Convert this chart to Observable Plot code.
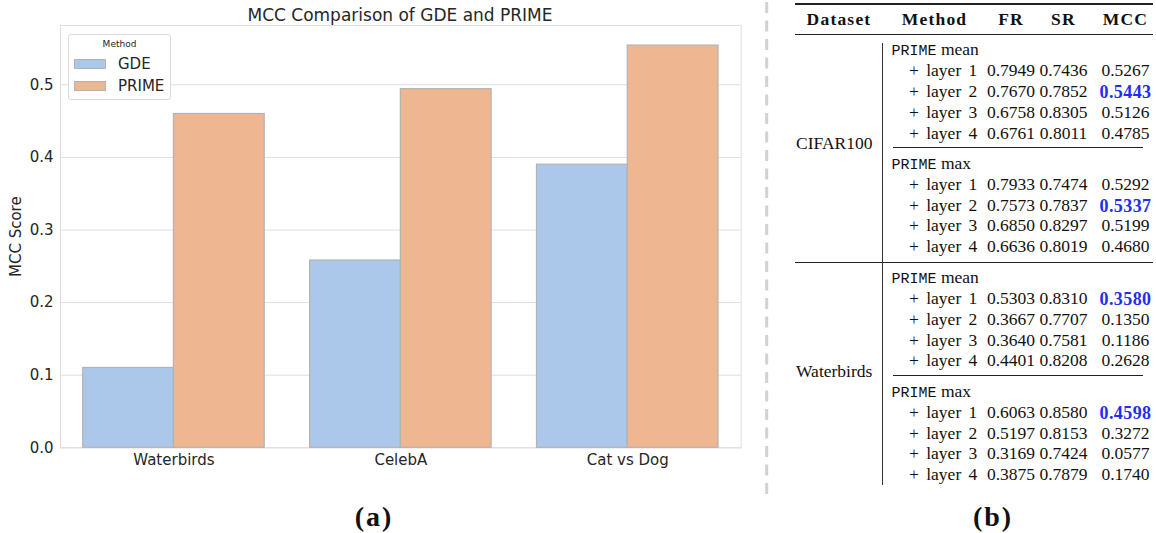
<!DOCTYPE html>
<html>
<head>
<meta charset="utf-8">
<script src="https://cdn.jsdelivr.net/npm/d3@7"></script>
<script src="https://cdn.jsdelivr.net/npm/@observablehq/plot@0.6"></script>
<style>
  html, body { margin: 0; padding: 0; background: #fff; }
  #page { position: relative; width: 1156px; height: 533px; overflow: hidden; font-family: "DejaVu Sans", sans-serif; }
  #chart { position: absolute; left: 0; top: 0; }
  .serif { font-family: "Liberation Serif", serif; color: #111; }
  .mono { font-family: "Liberation Mono", monospace; }
</style>
</head>
<body>
<div id="page"><div id="chart"></div></div>
<script>
// ---- bar chart data ----
const datasets = ["Waterbirds", "CelebA", "Cat vs Dog"];
const methods = ["GDE", "PRIME"];
const gdeScores = [0.110, 0.258, 0.390];
const primeScores = [0.4598, 0.494, 0.554];
const yTicks = [0, 0.1, 0.2, 0.3, 0.4, 0.5];
const methodColors = ["#abc8ea", "#efb692"];

// ---- table data ----
const tableDatasets = ["CIFAR100", "Waterbirds"];
const poolings = ["mean", "max"];
const layerNames = ["layer 1", "layer 2", "layer 3", "layer 4"];
const tableColumns = ["Dataset", "Method", "FR", "SR", "MCC"];

const cifarMeanFR = [0.7949, 0.7670, 0.6758, 0.6761];
const cifarMeanSR = [0.7436, 0.7852, 0.8305, 0.8011];
const cifarMeanMCC = [0.5267, 0.5443, 0.5126, 0.4785];
const cifarMaxFR = [0.7933, 0.7573, 0.6850, 0.6636];
const cifarMaxSR = [0.7474, 0.7837, 0.8297, 0.8019];
const cifarMaxMCC = [0.5292, 0.5337, 0.5199, 0.4680];
const wbMeanFR = [0.5303, 0.3667, 0.3640, 0.4401];
const wbMeanSR = [0.8310, 0.7707, 0.7581, 0.8208];
const wbMeanMCC = [0.3580, 0.1350, 0.1186, 0.2628];
const wbMaxFR = [0.6063, 0.5197, 0.3169, 0.3875];
const wbMaxSR = [0.8580, 0.8153, 0.7424, 0.7879];
const wbMaxMCC = [0.4598, 0.3272, 0.0577, 0.1740];

// ---- (a) grouped bar chart ----
const bars = datasets.flatMap((d, i) => [
  {dataset: d, method: methods[0], mcc: gdeScores[i]},
  {dataset: d, method: methods[1], mcc: primeScores[i]}
]);
const yMax = d3.max(bars, d => d.mcc) * 1.05;

const chart = Plot.plot({
  width: 760,
  height: 490,
  marginLeft: 60,
  marginRight: 19.3,
  marginTop: 25,
  marginBottom: 42.7,
  style: {fontFamily: "DejaVu Sans, sans-serif", color: "#262626", background: "transparent"},
  fx: {domain: datasets, padding: 0, round: false, label: null},
  x: {domain: methods, paddingInner: 0, paddingOuter: 0.25, round: false, axis: null},
  y: {domain: [0, yMax]},
  color: {domain: methods, range: methodColors},
  marks: [
    Plot.gridY(yTicks, {stroke: "#dedede", strokeOpacity: 1, strokeWidth: 1}),
    Plot.frame({facet: "super", stroke: "#dedede", strokeWidth: 1}),
    Plot.barY(bars, {fx: "dataset", x: "method", y: "mcc", fill: "method", stroke: "#b3b3b3", strokeWidth: 1.2}),
    Plot.axisY(yTicks, {
      tickSize: 0, tickPadding: 7, tickFormat: d3.format(".1f"), fontSize: 15,
      label: "MCC Score", labelAnchor: "center", labelArrow: "none", labelOffset: 50
    }),
    Plot.axisFx({anchor: "bottom", tickSize: 0, tickPadding: 7, fontSize: 15, label: null})
  ]
});
document.getElementById("chart").appendChild(chart);

const page = document.getElementById("page");
function put(text, css, cls) {
  const el = document.createElement("div");
  if (cls) el.className = cls;
  el.textContent = text;
  Object.assign(el.style, {position: "absolute", whiteSpace: "pre", lineHeight: "1"}, css);
  page.appendChild(el);
  return el;
}
function rule(x1, x2, y, w) {
  put("", {left: x1 + "px", top: (y - w / 2) + "px", width: (x2 - x1) + "px", height: w + "px", background: "#222"});
}

// title
put("MCC Comparison of GDE and PRIME", {
  left: "400px", top: "15px", transform: "translate(-50%,-50%)", fontSize: "17px", color: "#262626"
});

// legend
const legend = put("", {
  left: "68px", top: "34px", width: "103px", height: "66px", boxSizing: "border-box",
  border: "1px solid #dadada", borderRadius: "3px", background: "rgba(255,255,255,0.85)"
});
legend.appendChild(Object.assign(document.createElement("div"), {textContent: "Method"}));
Object.assign(legend.firstChild.style, {position: "absolute", left: "50%", top: "9px", transform: "translate(-50%,-50%)", fontSize: "9px", color: "#262626", lineHeight: "1"});
methods.forEach((m, i) => {
  const sw = document.createElement("div");
  Object.assign(sw.style, {position: "absolute", left: "5px", top: (23.5 + i * 22.3) + "px", width: "32px", height: "10px", background: methodColors[i], border: "1px solid #b3b3b3", boxSizing: "border-box"});
  legend.appendChild(sw);
  const tx = document.createElement("div");
  tx.textContent = m;
  Object.assign(tx.style, {position: "absolute", left: "49px", top: (29 + i * 22.3) + "px", transform: "translateY(-50%)", fontSize: "15px", color: "#262626", lineHeight: "1"});
  legend.appendChild(tx);
});

// panel captions
put("(a)", {left: "374px", top: "517px", transform: "translate(-50%,-50%)", fontSize: "28px", fontWeight: "bold", letterSpacing: "2px"}, "serif");
put("(b)", {left: "993px", top: "517px", transform: "translate(-50%,-50%)", fontSize: "28px", fontWeight: "bold", letterSpacing: "2px"}, "serif");

// dashed separator between panels
const sepNS = "http://www.w3.org/2000/svg";
const sep = document.createElementNS(sepNS, "svg");
sep.setAttribute("width", "10"); sep.setAttribute("height", "533");
Object.assign(sep.style, {position: "absolute", left: "762px", top: "0px"});
const sepLine = document.createElementNS(sepNS, "line");
sepLine.setAttribute("x1", "4.7"); sepLine.setAttribute("x2", "4.7");
sepLine.setAttribute("y1", "2"); sepLine.setAttribute("y2", "497");
sepLine.setAttribute("stroke", "#d2d2d2"); sepLine.setAttribute("stroke-width", "3");
sepLine.setAttribute("stroke-dasharray", "11 7.5");
sep.appendChild(sepLine);
page.appendChild(sep);

// ---- (b) results table ----
const blockValues = [
  [[cifarMeanFR, cifarMeanSR, cifarMeanMCC], [cifarMaxFR, cifarMaxSR, cifarMaxMCC]],
  [[wbMeanFR, wbMeanSR, wbMeanMCC], [wbMaxFR, wbMaxSR, wbMaxMCC]]
];
const ruleL = 795, ruleR = 1153, vLineX = 882.3;
const colX = {Dataset: 839, Method: 934.5, FR: 1011, SR: 1063.5, MCC: 1125.5};
const labelX = 891.5, layerX = 909, datasetX = 796, rowStep = 20.8;
const fmt = d3.format(".4f");

rule(ruleL, ruleR, 4, 1.3);
tableColumns.forEach(c => put(c, {left: colX[c] + "px", top: "20px", transform: "translate(-50%,-50%)", fontSize: "17.5px", fontWeight: "bold", letterSpacing: "1.2px"}, "serif"));
rule(ruleL, ruleR, 34.3, 0.8);

let y = 34.3;
const vTop = 42.7;
tableDatasets.forEach((ds, di) => {
  const blockTop = y + 16;
  poolings.forEach((pool, pi) => {
    y += pi === 0 ? 16 : 16.5;
    const lab = put("", {left: labelX + "px", top: y + "px", transform: "translateY(-50%)", fontSize: "17.5px"}, "serif");
    const mono = document.createElement("span");
    mono.className = "mono"; mono.textContent = "PRIME"; mono.style.fontSize = "15px";
    lab.appendChild(mono);
    lab.appendChild(document.createTextNode(" " + pool));
    const [fr, sr, mcc] = blockValues[di][pi];
    const best = d3.maxIndex(mcc);
    layerNames.forEach((ln, li) => {
      y += rowStep;
      put("+ " + ln, {left: layerX + "px", top: y + "px", transform: "translateY(-50%)", fontSize: "17.5px", wordSpacing: "3px"}, "serif");
      put(fmt(fr[li]), {left: colX.FR + "px", top: y + "px", transform: "translate(-50%,-50%)", fontSize: "17.5px"}, "serif");
      put(fmt(sr[li]), {left: colX.SR + "px", top: y + "px", transform: "translate(-50%,-50%)", fontSize: "17.5px"}, "serif");
      const cell = put(fmt(mcc[li]), {left: colX.MCC + "px", top: y + "px", transform: "translate(-50%,-50%)", fontSize: "17.5px"}, "serif");
      if (li === best) Object.assign(cell.style, {fontWeight: "bold", color: "#1f2ff0", fontSize: "18px", letterSpacing: "0.4px"});
    });
    if (pi === 0) {
      y += 14;
      rule(892.7, 1143.3, y, 0.8);
    }
  });
  const blockBottom = y;
  put(ds, {left: datasetX + "px", top: ((blockTop + blockBottom) / 2 - 4.5) + "px", transform: "translateY(-50%)", fontSize: "17.5px"}, "serif");
  if (di < tableDatasets.length - 1) {
    y += 15;
    rule(ruleL, ruleR, y, 0.8);
  }
});
// vertical separator between dataset names and methods
put("", {left: (vLineX - 0.5) + "px", top: vTop + "px", width: "1px", height: (y + 10 - vTop) + "px", background: "#333"});
</script>
</body>
</html>
